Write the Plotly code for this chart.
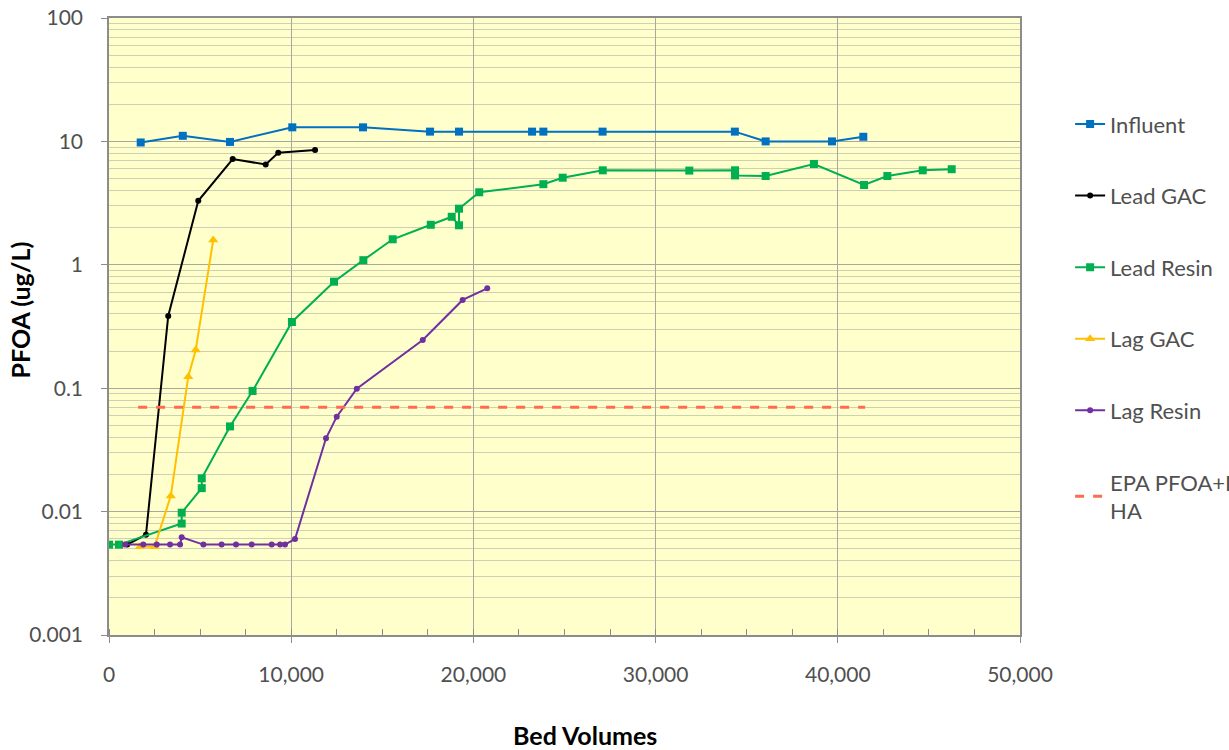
import plotly.graph_objects as go

# Bed volumes (x) and PFOA concentrations in ug/L (y) for each sampling series
influent_bv = [1740, 4050, 6640, 10060, 13940, 17620, 19210, 23220, 23840, 27090, 34350, 36040, 39680, 41400]
influent_pfoa = [9.8, 11.1, 9.9, 13.0, 13.0, 12.0, 12.0, 12.0, 12.0, 12.0, 12.0, 10.0, 10.0, 10.9]

lead_gac_bv = [1000, 2030, 3250, 4900, 6790, 8600, 9290, 11310]
lead_gac_pfoa = [0.0054, 0.0065, 0.385, 3.3, 7.2, 6.5, 8.1, 8.5]

lead_resin_bv = [0, 550, 3990, 3990, 5090, 5090, 6640, 7880, 10040, 12350, 13960, 15570, 17660,
                 18810, 19210, 19210, 20320, 23840, 24900, 27100, 31850, 34360, 34360, 36040,
                 38690, 41440, 42720, 44660, 46250]
lead_resin_pfoa = [0.0054, 0.0054, 0.0080, 0.0098, 0.0155, 0.0186, 0.049, 0.095, 0.344, 0.73, 1.09,
                   1.61, 2.11, 2.45, 2.09, 2.85, 3.87, 4.5, 5.08, 5.83, 5.8, 5.83, 5.3, 5.24,
                   6.56, 4.43, 5.24, 5.83, 5.95]

lag_gac_bv = [1700, 2500, 3390, 4350, 4760, 5720]
lag_gac_pfoa = [0.0052, 0.0052, 0.0134, 0.124, 0.204, 1.59]

lag_resin_bv = [880, 1880, 2620, 3350, 3900, 3990, 5180, 6180, 6970, 7830, 8930, 9390, 9660,
                10210, 11910, 12500, 13600, 17220, 19410, 20760]
lag_resin_pfoa = [0.0054, 0.0054, 0.0054, 0.0054, 0.0054, 0.0062, 0.0054, 0.0054, 0.0054, 0.0054,
                  0.0054, 0.0054, 0.0054, 0.006, 0.0393, 0.0588, 0.099, 0.246, 0.519, 0.645]

epa_bv = [1600, 41500]
epa_ha = [0.07, 0.07]

y_tick_vals = [0.001, 0.01, 0.1, 1, 10, 100]
y_tick_text = ["0.001", "0.01", "0.1", "1", "10", "100"]
x_tick_vals = [0, 10000, 20000, 30000, 40000, 50000]

FONT = "Lato, 'Open Sans', sans-serif"
LABEL_GREY = "#505050"

fig = go.Figure()

def series(x, y, name, color, symbol, size):
    fig.add_trace(go.Scatter(
        x=x, y=y, name=name, mode="lines+markers", legendgroup=name,
        line=dict(color=color, width=2),
        marker=dict(color=color, symbol=symbol, size=size),
    ))

series(influent_bv, influent_pfoa, "Influent", "#0070C0", "square", 8)
series(lead_gac_bv, lead_gac_pfoa, "Lead GAC", "#000000", "circle", 6)
series(lead_resin_bv, lead_resin_pfoa, "Lead Resin", "#00B050", "square", 8)
series(lag_gac_bv, lag_gac_pfoa, "Lag GAC", "#FFC000", "triangle-up", 9)
series(lag_resin_bv, lag_resin_pfoa, "Lag Resin", "#7030A0", "circle", 6)

fig.add_trace(go.Scatter(
    x=epa_bv, y=epa_ha, name="EPA PFOA+PFOS<br>HA", mode="lines", legendgroup="epa",
    line=dict(color="#FF6A55", width=3, dash="dash"),
))

fig.update_layout(
    width=1229, height=750,
    margin=dict(l=109, r=209, t=18, b=115, autoexpand=False),
    paper_bgcolor="white",
    plot_bgcolor="#FFFFCC",
    font=dict(family=FONT, size=21, color=LABEL_GREY),
    showlegend=True,
    legend=dict(
        x=1.055, y=0.862, xanchor="left", yanchor="top",
        font=dict(family=FONT, size=22, color=LABEL_GREY),
        tracegroupgap=40, bgcolor="rgba(0,0,0,0)",
    ),
    xaxis=dict(
        range=[0, 50000], tickvals=x_tick_vals, tickformat=",",
        showgrid=True, gridcolor="#A8A8A0", gridwidth=1,
        showline=True, linecolor="#8C8C8C", linewidth=1.5, mirror=True,
        ticks="outside", ticklen=6, tickcolor="#8C8C8C", ticklabelstandoff=14,
        minor=dict(dtick=2500, ticks="inside", ticklen=6, tickcolor="#8C8C8C", showgrid=False),
        zeroline=False,
        tickfont=dict(size=21, color=LABEL_GREY),
    ),
    yaxis=dict(
        type="log", range=[-3, 2], tickvals=y_tick_vals, ticktext=y_tick_text,
        showgrid=True, gridcolor="#A8A8A0", gridwidth=1,
        showline=True, linecolor="#8C8C8C", linewidth=1.5, mirror=True,
        ticks="outside", ticklen=6, tickcolor="#8C8C8C", ticklabelstandoff=14,
        minor=dict(dtick="D1", showgrid=True, gridcolor="#CFCFB6", gridwidth=1, ticks=""),
        zeroline=False,
        tickfont=dict(size=21, color=LABEL_GREY),
    ),
    annotations=[
        dict(text="<b>Bed Volumes</b>", xref="paper", yref="paper", x=0.522, y=-0.162,
             xanchor="center", yanchor="middle", showarrow=False,
             font=dict(family=FONT, size=25, color="#000000")),
        dict(text="<b>PFOA (ug/L)</b>", xref="paper", yref="paper", x=-0.098, y=0.527,
             xanchor="center", yanchor="middle", showarrow=False, textangle=-90,
             font=dict(family=FONT, size=25, color="#000000")),
    ],
)

fig.write_html("out.html")
